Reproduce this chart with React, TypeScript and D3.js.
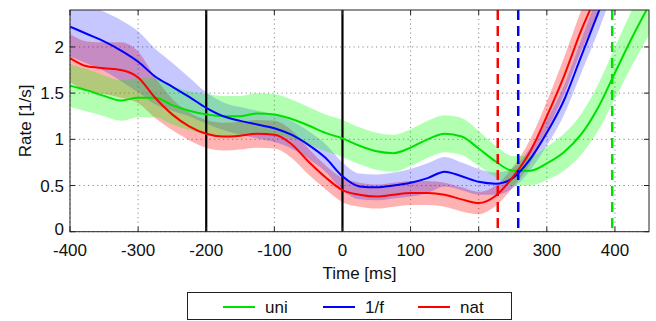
import { useEffect, useRef } from 'react';
import * as d3 from 'd3';

// time axis (ms) and mean rates (1/s)
const times = [
  -400, -375, -350, -325, -300, -275, -250, -225, -200, -175, -150, -125, -100, -75, -50, -25,
  0, 25, 50, 75, 100, 125, 150, 175, 200, 225, 250, 275, 300, 325, 350, 375, 400, 425, 450,
];

const uni = [
  1.58, 1.53, 1.47, 1.42, 1.45, 1.45, 1.37, 1.31, 1.27, 1.25, 1.25, 1.28, 1.27, 1.22, 1.15, 1.07,
  1.01, 0.93, 0.87, 0.85, 0.91, 1.0, 1.06, 1.03, 0.9, 0.76, 0.66, 0.66, 0.74, 0.86, 1.05, 1.34, 1.72, 2.1, 2.45,
];
const oneF = [
  2.22, 2.14, 2.06, 1.96, 1.84, 1.68, 1.57, 1.46, 1.34, 1.25, 1.2, 1.16, 1.12, 1.05, 0.94, 0.8,
  0.6, 0.49, 0.48, 0.5, 0.53, 0.58, 0.65, 0.6, 0.54, 0.52, 0.58, 0.78, 1.07, 1.42, 1.89, 2.36, 2.85, 3.3, 3.75,
];
const nat = [
  1.88, 1.79, 1.77, 1.75, 1.67, 1.45, 1.27, 1.14, 1.06, 1.03, 1.04, 1.06, 1.05, 0.95, 0.76, 0.59,
  0.45, 0.4, 0.38, 0.4, 0.42, 0.42, 0.4, 0.35, 0.31, 0.39, 0.59, 0.86, 1.25, 1.68, 2.17, 2.6, 3.1, 3.6, 4.1,
];

// half widths of the shaded bands
const uniErr = [
  0.23, 0.23, 0.22, 0.22, 0.21, 0.21, 0.21, 0.21, 0.22, 0.22, 0.22, 0.22, 0.22, 0.21, 0.2, 0.2,
  0.2, 0.2, 0.2, 0.2, 0.2, 0.2, 0.2, 0.2, 0.19, 0.17, 0.16, 0.16, 0.18, 0.2, 0.22, 0.25, 0.28, 0.3, 0.32,
];
const oneFErr = [
  0.32, 0.32, 0.32, 0.33, 0.33, 0.3, 0.26, 0.21, 0.17, 0.15, 0.15, 0.15, 0.15, 0.15, 0.15, 0.15,
  0.15, 0.14, 0.14, 0.14, 0.15, 0.16, 0.16, 0.15, 0.14, 0.12, 0.11, 0.12, 0.14, 0.16, 0.18, 0.2, 0.2, 0.2, 0.2,
];
const natErr = [
  0.26, 0.27, 0.28, 0.3, 0.28, 0.22, 0.17, 0.15, 0.15, 0.15, 0.15, 0.15, 0.15, 0.15, 0.14, 0.13,
  0.13, 0.13, 0.13, 0.13, 0.13, 0.13, 0.13, 0.13, 0.12, 0.11, 0.11, 0.13, 0.16, 0.2, 0.22, 0.24, 0.25, 0.25, 0.25,
];

const eventLines = [-200, 0];
const onsets = [
  { t: 228, color: '#ff0000' },
  { t: 258, color: '#0000ff' },
  { t: 396, color: '#00e000' },
];

const xTicks = [-400, -300, -200, -100, 0, 100, 200, 300, 400];
const yTicks = [0, 0.5, 1, 1.5, 2];

const series = [
  { name: 'uni', mean: uni, err: uniErr, color: '#00e000', fill: '#00ff00', op: 0.3 },
  { name: '1/f', mean: oneF, err: oneFErr, color: '#0000ff', fill: '#0000ff', op: 0.22 },
  { name: 'nat', mean: nat, err: natErr, color: '#ff0000', fill: '#ff0000', op: 0.3 },
];

const FONT = '"Liberation Sans", Arial, Helvetica, sans-serif';
const FS = 17;

export default function App() {
  const svgRef = useRef<SVGSVGElement>(null);

  useEffect(() => {
    if (!svgRef.current) return;
    const svg = d3.select(svgRef.current);
    svg.selectAll('*').remove();

    const left = 70, right = 649, top = 10, bottom = 231.7;

    const x = d3.scaleLinear().domain([-400, 450]).range([left, right]);
    const y = d3.scaleLinear().domain([0, 2.4]).range([bottom, top]);

    svg.append('defs').append('clipPath').attr('id', 'plot-clip')
      .append('rect')
      .attr('x', left).attr('y', top)
      .attr('width', right - left).attr('height', bottom - top);

    // dotted grid
    const grid = svg.append('g')
      .attr('stroke', '#8a8a8a')
      .attr('stroke-width', 1)
      .attr('stroke-dasharray', '1.2,3.3');
    xTicks.forEach(t => {
      grid.append('line')
        .attr('x1', x(t)).attr('x2', x(t))
        .attr('y1', top).attr('y2', bottom);
    });
    yTicks.forEach(v => {
      grid.append('line')
        .attr('x1', left).attr('x2', right)
        .attr('y1', y(v)).attr('y2', y(v));
    });

    const plot = svg.append('g').attr('clip-path', 'url(#plot-clip)');

    // shaded bands, green ends up on top like in the original
    const idx = d3.range(times.length);
    [...series].reverse().forEach(s => {
      const area = d3.area<number>()
        .x(i => x(times[i]))
        .y0(i => y(s.mean[i] - s.err[i]))
        .y1(i => y(s.mean[i] + s.err[i]))
        .curve(d3.curveMonotoneX);
      plot.append('path')
        .datum(idx)
        .attr('fill', s.fill)
        .attr('fill-opacity', s.op)
        .attr('d', area);
    });

    // event markers
    eventLines.forEach(t => {
      plot.append('line')
        .attr('x1', x(t)).attr('x2', x(t))
        .attr('y1', top).attr('y2', bottom)
        .attr('stroke', '#000')
        .attr('stroke-width', 2.2);
    });

    // mean lines
    series.forEach(s => {
      const line = d3.line<number>()
        .x(i => x(times[i]))
        .y(i => y(s.mean[i]))
        .curve(d3.curveMonotoneX);
      plot.append('path')
        .datum(idx)
        .attr('fill', 'none')
        .attr('stroke', s.color)
        .attr('stroke-width', 2)
        .attr('d', line);
    });

    // onset dashed lines
    onsets.forEach(o => {
      plot.append('line')
        .attr('x1', x(o.t)).attr('x2', x(o.t))
        .attr('y1', top).attr('y2', bottom)
        .attr('stroke', o.color)
        .attr('stroke-width', 2.5)
        .attr('stroke-dasharray', '10,6');
    });

    // box and inward ticks
    svg.append('rect')
      .attr('x', left).attr('y', top)
      .attr('width', right - left).attr('height', bottom - top)
      .attr('fill', 'none')
      .attr('stroke', '#222')
      .attr('stroke-width', 1);

    const ticks = svg.append('g').attr('stroke', '#222').attr('stroke-width', 1);
    xTicks.forEach(t => {
      ticks.append('line').attr('x1', x(t)).attr('x2', x(t)).attr('y1', bottom).attr('y2', bottom - 5);
      ticks.append('line').attr('x1', x(t)).attr('x2', x(t)).attr('y1', top).attr('y2', top + 5);
    });
    yTicks.forEach(v => {
      ticks.append('line').attr('x1', left).attr('x2', left + 5).attr('y1', y(v)).attr('y2', y(v));
      ticks.append('line').attr('x1', right).attr('x2', right - 5).attr('y1', y(v)).attr('y2', y(v));
    });

    // tick labels
    xTicks.forEach(t => {
      svg.append('text')
        .attr('x', x(t))
        .attr('y', 256)
        .attr('text-anchor', 'middle')
        .attr('font-family', FONT)
        .attr('font-size', FS)
        .attr('fill', '#111')
        .text(String(t));
    });
    yTicks.forEach(v => {
      svg.append('text')
        .attr('x', 64)
        .attr('y', y(v) + (v === 0 ? 3.5 : 6))
        .attr('text-anchor', 'end')
        .attr('font-family', FONT)
        .attr('font-size', FS)
        .attr('fill', '#111')
        .text(String(v));
    });

    // axis labels
    svg.append('text')
      .attr('x', x(25))
      .attr('y', 279)
      .attr('text-anchor', 'middle')
      .attr('font-family', FONT)
      .attr('font-size', FS)
      .attr('fill', '#111')
      .text('Time [ms]');

    svg.append('text')
      .attr('transform', `translate(31,${(top + bottom) / 2}) rotate(-90)`)
      .attr('text-anchor', 'middle')
      .attr('font-family', FONT)
      .attr('font-size', FS)
      .attr('fill', '#111')
      .text('Rate [1/s]');

    // legend
    const legend = svg.append('g');
    legend.append('rect')
      .attr('x', 187.5).attr('y', 292.5)
      .attr('width', 324).attr('height', 27)
      .attr('fill', '#fff')
      .attr('stroke', '#222')
      .attr('stroke-width', 1);

    const legendX = [223, 323, 418];
    series.forEach((s, i) => {
      legend.append('line')
        .attr('x1', legendX[i]).attr('x2', legendX[i] + 32)
        .attr('y1', 307).attr('y2', 307)
        .attr('stroke', s.color)
        .attr('stroke-width', 2);
      legend.append('text')
        .attr('x', legendX[i] + 42)
        .attr('y', 313)
        .attr('font-family', FONT)
        .attr('font-size', FS)
        .attr('fill', '#111')
        .text(s.name);
    });
  }, []);

  return (
    <svg
      ref={svgRef}
      width={656}
      height={321}
      style={{ position: 'absolute', left: 0, top: 0, background: '#fff' }}
    />
  );
}
